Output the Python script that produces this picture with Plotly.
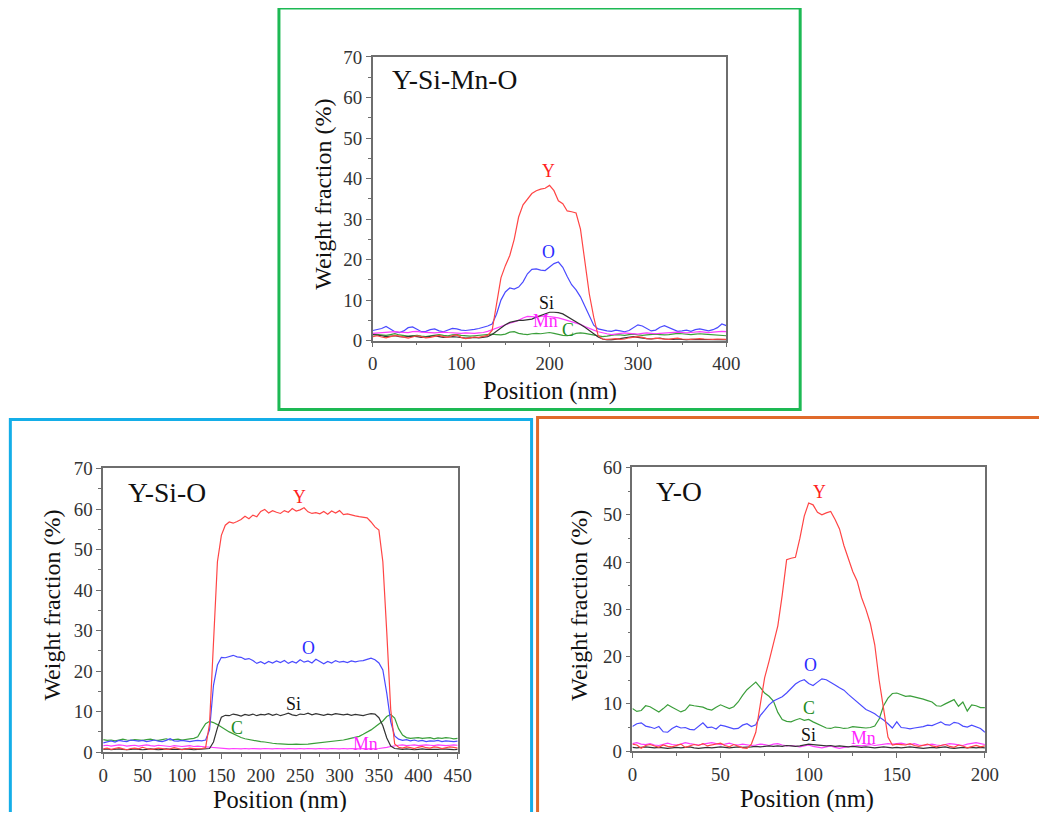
import plotly.graph_objects as go

FW, FH = 1031, 804
# measured mapping of the screenshot: pixel = A + B * paper fraction
AX0, BX = 12.66, 1013.5
AY0, BY = 17.0, 783.9
FS = 1.02  # font compensation for the screenshot scale

# ---------------- Data: Y-Si-Mn-O (top) ----------------
x_top = list(range(0, 405, 5))
top_Y = [1.0,1.2,0.9,0.7,1.0,1.3,1.1,0.8,0.6,0.9,1.2,1.0,0.7,0.8,1.1,1.3,1.0,0.8,1.2,1.4,0.8,0.5,0.7,0.9,0.8,1.0,1.3,
         2.5,9.0,15.5,18.5,21.0,25.0,30.5,33.5,35.0,36.3,37.0,37.4,37.6,38.3,37.0,34.5,33.8,32.0,31.8,31.5,27.5,19.5,11.5,5.8,1.2,0.4,
         0.3,0.4,0.5,0.3,0.4,0.7,0.9,1.0,0.8,0.5,0.4,0.6,0.5,0.4,0.3,0.5,0.6,0.4,0.3,0.3,0.4,0.5,0.4,0.3,0.3,0.4,0.3,0.3]
top_O = [2.5,2.7,3.0,3.5,2.8,2.2,2.0,2.4,3.2,3.4,2.8,2.2,2.3,2.7,2.9,2.4,2.2,2.6,3.0,2.9,2.6,2.5,2.6,2.8,3.0,3.3,3.6,
         4.1,6.5,10.0,12.0,13.0,12.7,13.2,14.5,16.5,17.6,17.7,17.4,17.3,18.2,19.0,19.4,18.1,15.8,13.8,12.5,10.8,8.5,6.0,3.8,2.9,2.6,
         2.4,2.3,2.6,2.4,2.2,2.5,3.2,3.9,3.6,2.9,2.4,2.6,3.3,3.7,3.2,2.6,2.3,2.4,2.6,2.3,2.7,2.9,2.6,2.4,2.7,3.2,4.1,3.7]
top_Mn = [1.8,1.9,2.0,2.0,2.1,2.2,2.1,2.0,2.0,2.2,2.3,2.1,2.0,1.9,1.9,2.0,2.1,2.0,1.9,1.8,1.8,1.9,1.8,1.8,1.9,2.0,2.3,
          2.7,3.2,3.6,4.0,4.3,4.6,5.0,5.6,6.0,5.9,5.8,6.0,6.1,5.9,5.8,5.6,5.3,5.0,4.7,4.4,4.0,3.5,3.0,2.6,2.2,1.9,
          1.7,1.5,1.6,1.8,1.9,1.8,1.7,1.6,1.8,1.9,1.8,1.7,1.8,1.9,2.0,2.0,2.1,2.0,1.9,2.0,2.1,2.2,2.1,2.0,2.1,2.2,2.3,2.2]
top_Si = [1.5,1.4,1.2,1.0,1.1,1.2,1.0,0.9,1.0,1.1,1.0,0.8,0.9,1.1,1.2,1.0,0.8,0.9,1.0,0.9,0.7,0.6,0.7,0.8,0.7,0.8,1.0,
          1.5,2.3,3.2,3.9,4.5,4.8,5.0,5.0,5.1,5.3,5.8,6.2,6.6,7.0,7.0,6.9,6.6,6.0,5.4,4.8,4.0,3.3,2.5,1.6,0.9,0.4,
          0.2,0.2,0.3,0.5,0.7,0.9,1.0,0.8,0.6,0.5,0.4,0.5,0.6,0.4,0.3,0.3,0.4,0.3,0.2,0.3,0.3,0.2,0.2,0.3,0.2,0.2,0.3,0.2]
top_C = [1.6,1.5,1.4,1.3,1.5,1.7,1.4,1.2,1.1,1.2,1.3,1.1,1.0,1.2,1.4,1.5,1.3,1.2,1.4,1.5,1.3,1.2,1.1,1.2,1.3,1.4,1.5,
         1.6,1.5,1.4,1.6,2.1,2.2,1.8,1.6,1.5,1.7,1.8,1.7,1.9,2.0,1.8,1.5,1.3,1.2,1.4,1.8,1.9,1.8,1.6,1.4,1.1,1.0,
         1.1,1.3,1.5,1.4,1.3,1.5,1.6,1.4,1.3,1.4,1.5,1.6,1.5,1.4,1.5,1.7,1.8,1.7,1.6,1.5,1.6,1.7,1.6,1.5,1.4,1.3,1.2,1.2]

# ---------------- Data: Y-Si-O (bottom left) ----------------
x_bl = list(range(0, 455, 5))
bl_Y = [0.8,1.0,0.7,0.9,1.1,0.8,0.6,0.9,1.0,0.8,1.2,0.9,0.7,0.8,1.0,0.9,0.7,0.8,1.1,0.9,0.6,0.8,1.0,0.9,0.8,0.9,
        1.1,7.0,29.0,47.0,53.5,56.0,56.8,56.5,56.9,57.4,58.2,57.6,58.5,58.1,59.4,59.9,59.0,59.6,59.2,58.9,
        59.6,59.2,60.1,59.5,59.8,60.3,59.3,58.9,59.1,58.8,59.4,58.7,59.5,59.0,59.6,58.6,58.8,58.5,58.3,58.1,
        58.0,57.8,56.8,55.6,54.8,47.0,29.5,10.5,2.0,
        1.2,1.0,1.3,1.1,0.9,1.2,1.4,1.1,1.0,1.3,1.2,0.9,1.1,1.3,1.2,1.0]
bl_O = [2.3,2.6,2.8,2.5,2.9,2.7,2.6,3.0,2.8,2.7,2.9,2.6,2.8,3.0,2.7,2.6,2.9,3.3,2.8,2.7,2.9,2.8,2.6,2.8,2.9,2.8,
        3.0,5.5,16.5,21.5,23.4,23.3,23.6,23.9,23.5,23.4,22.9,23.1,22.6,21.9,22.3,21.8,22.4,22.0,22.5,22.1,
        22.6,21.9,22.4,22.0,22.8,22.2,22.5,22.0,22.9,22.3,21.8,22.4,22.0,22.6,22.2,22.4,22.1,22.5,22.3,22.5,
        22.6,22.9,23.2,22.8,22.0,20.3,14.5,7.5,4.0,
        3.2,2.9,3.1,2.8,3.0,2.7,2.9,2.6,2.8,2.7,2.9,2.6,2.8,2.7,2.6,2.7]
bl_Si = [0.7,0.8,0.6,0.7,0.8,0.7,0.6,0.7,0.8,0.7,0.6,0.7,0.8,0.7,0.6,0.7,0.8,0.7,0.7,0.6,0.7,0.8,0.7,0.6,0.7,0.8,
         0.9,0.9,2.5,6.0,8.6,9.1,9.0,9.4,9.2,8.9,9.3,9.1,9.4,9.0,9.3,9.2,9.5,9.1,9.4,9.0,
         9.3,9.6,9.2,9.0,9.4,9.3,9.6,9.2,9.5,9.3,9.1,9.4,9.2,9.5,9.3,9.2,9.4,9.1,9.3,9.2,
         9.0,9.3,9.5,9.4,8.5,6.5,3.5,1.5,0.9,
         0.8,0.7,0.8,0.7,0.6,0.7,0.8,0.7,0.7,0.6,0.7,0.8,0.7,0.7,0.6,0.7]
bl_C = [3.1,2.9,3.0,2.8,3.0,3.2,3.0,2.9,3.1,3.0,2.9,3.1,3.2,3.0,2.9,3.1,3.3,3.0,3.1,3.2,3.0,3.2,3.3,3.4,3.8,5.5,
        7.0,7.6,7.3,6.8,6.3,5.6,5.0,4.5,4.0,3.6,3.3,3.1,2.9,2.7,2.6,2.5,2.3,2.2,2.1,2.0,
        2.0,1.9,1.9,2.0,1.9,1.9,2.0,2.1,2.2,2.3,2.4,2.5,2.7,2.8,2.9,3.0,3.2,3.4,3.6,3.9,
        4.4,4.9,5.5,6.2,7.0,7.7,8.8,9.3,8.4,
        5.8,4.2,3.6,3.4,3.5,3.6,3.4,3.5,3.6,3.3,3.5,3.4,3.6,3.5,3.3,3.4]
bl_Mn = [1.6,1.7,1.5,1.6,1.8,1.7,1.5,1.6,1.7,1.5,1.6,1.8,1.6,1.5,1.7,1.6,1.5,1.4,1.6,1.5,1.4,1.5,1.6,1.4,1.5,1.4,
         1.3,1.2,1.1,1.0,0.9,0.9,0.8,0.9,0.8,0.8,0.9,0.8,0.9,0.8,0.8,0.9,0.8,0.8,0.9,0.8,
         0.8,0.9,0.8,0.8,0.9,0.8,0.9,0.8,0.8,0.9,0.8,0.8,0.9,0.8,0.8,0.9,0.8,0.9,0.8,0.8,
         0.9,0.8,0.9,0.8,0.9,1.0,1.2,1.4,1.6,
         1.7,1.8,1.6,1.7,1.8,1.6,1.7,1.8,1.7,1.6,1.8,1.7,1.6,1.7,1.8,1.7]

# ---------------- Data: Y-O (bottom right) ----------------
x_br = [i * 2.5 for i in range(81)]
br_Y = [1.5,1.3,0.6,1.2,1.4,1.1,0.8,1.3,1.0,0.9,1.2,1.5,0.8,1.1,1.4,1.2,1.6,1.1,1.3,1.5,1.7,1.2,0.9,1.4,1.1,0.7,
        0.6,1.5,4.0,10.0,15.5,19.0,22.5,26.5,33.0,40.5,40.8,41.0,45.0,49.7,52.5,52.1,50.5,50.0,50.4,50.7,
        49.0,47.0,43.5,40.5,38.0,36.0,32.5,30.0,27.0,22.5,15.0,9.0,3.0,1.3,
        1.5,1.4,1.3,1.6,1.2,1.0,1.3,1.5,1.1,0.9,1.2,1.4,1.0,0.8,1.3,1.1,0.7,1.0,1.2,0.9,1.1]
br_O = [5.2,5.8,6.0,5.3,5.1,4.8,5.2,4.1,4.0,4.8,5.3,4.9,5.0,4.6,4.5,5.2,6.0,5.0,5.1,4.7,5.5,5.3,5.0,4.7,4.8,5.5,
        5.8,5.2,5.6,7.5,8.6,9.8,10.6,11.0,11.5,12.3,13.2,14.2,14.8,15.1,14.3,13.9,14.6,15.3,15.1,14.6,
        14.0,13.4,12.9,12.0,11.2,10.3,9.4,8.8,8.4,7.9,7.2,6.6,5.8,4.9,
        6.2,5.0,4.9,4.7,4.9,5.0,5.2,5.5,5.4,5.8,6.2,5.6,5.5,6.1,5.9,5.3,5.1,5.5,5.2,4.8,4.0]
br_C = [9.0,8.4,8.6,9.6,9.4,8.8,8.3,9.0,9.8,9.3,8.8,8.3,8.7,9.8,9.6,9.5,9.3,8.9,8.7,9.3,9.8,9.4,9.0,9.4,10.4,11.8,
        13.0,13.8,14.6,13.5,12.3,11.6,10.6,8.2,6.7,6.3,6.2,6.6,6.9,6.5,6.7,6.2,5.8,5.4,4.9,4.8,
        5.1,5.0,4.8,4.9,5.2,5.1,5.0,4.9,5.0,5.3,6.8,9.6,11.2,12.2,
        12.3,12.0,11.6,11.7,11.5,11.2,11.0,10.7,10.4,9.6,9.5,10.0,10.4,10.9,9.5,10.4,8.5,9.8,9.6,9.2,9.2]
br_Mn = [1.6,1.8,1.5,1.4,1.6,1.3,1.2,1.5,1.7,1.4,1.3,1.5,1.8,1.6,1.4,1.3,1.5,1.7,1.8,1.6,1.4,1.5,1.7,1.4,1.3,1.5,
         1.4,1.2,1.3,1.5,1.4,1.2,1.5,1.6,1.3,1.1,1.2,1.0,0.9,1.1,1.3,1.0,0.8,0.7,0.9,1.1,
         0.8,0.6,0.8,0.9,1.0,1.2,1.1,1.3,1.4,1.2,1.3,1.5,1.6,1.5,
         1.6,1.7,1.5,1.4,1.6,1.3,1.2,1.4,1.5,1.3,1.2,1.4,1.6,1.5,1.3,1.2,1.5,1.7,1.8,1.6,1.4]
br_Si = [0.8,0.7,0.8,0.9,0.8,0.7,0.8,0.7,0.6,0.7,0.8,0.7,0.8,0.9,0.7,0.6,0.7,0.8,0.7,0.8,0.9,0.8,0.7,0.8,0.9,0.8,
         0.8,0.9,1.0,0.9,1.0,1.1,1.0,1.1,1.0,1.2,1.1,1.0,1.1,1.3,1.5,1.4,1.3,1.2,1.1,1.2,
         1.0,1.1,1.0,0.9,1.0,0.9,0.8,0.9,0.8,0.7,0.8,0.9,0.8,0.7,
         0.8,0.7,0.8,0.9,0.8,0.7,0.6,0.7,0.8,0.7,0.8,0.9,0.7,0.6,0.7,0.8,0.7,0.8,0.7,0.8,0.7]

# ---------------- Labels ----------------
panel_titles = ["Y-Si-Mn-O", "Y-Si-O", "Y-O"]
elements = ["Y", "O", "Si", "Mn", "C"]
# positions in the order Y, O, Si, Mn, C
top_label_pos = [(199, 41.9), (199, 21.8), (197, 9.4), (195, 4.9), (221, 2.5)]
bl_label_pos = [(249, 63.0), (260, 25.7), (242, 11.9), (333, 1.9), (170, 6.0)]
br_label_pos = [(106, 54.8), (101, 18.2), (100, 3.5), (131, 2.8), (100, 9.2)]

COL = {"Y": "#ff4545", "O": "#4a4aff", "Si": "#333333", "Mn": "#ff3cff", "C": "#3a9e3a"}
LABCOL = {"Y": "#ff2020", "O": "#2a2aff", "Si": "#111111", "Mn": "#ff22ff", "C": "#228b22"}
FONT = "Liberation Serif"

fig = go.Figure()

def add_series(xs, series, axis):
    for el in ["C", "O", "Mn", "Si", "Y"]:
        fig.add_trace(go.Scatter(x=xs, y=series[el], mode="lines",
                                 line=dict(color=COL[el], width=1.2),
                                 xaxis="x" + axis, yaxis="y" + axis,
                                 showlegend=False, hoverinfo="skip"))

add_series(x_top, {"Y": top_Y, "O": top_O, "Si": top_Si, "Mn": top_Mn, "C": top_C}, "")
add_series(x_bl, {"Y": bl_Y, "O": bl_O, "Si": bl_Si, "Mn": bl_Mn, "C": bl_C}, "2")
add_series(x_br, {"Y": br_Y, "O": br_O, "Si": br_Si, "Mn": br_Mn, "C": br_C}, "3")

def px(xp):
    return (xp - AX0) / BX

def py(yp):
    return 1 - (yp - AY0) / BY

AXC = "#6e6e6e"
TICKFONT = dict(family=FONT, size=18.5 * FS, color="#333333")

def xax(x0, x1, rng, dtick, minor, anchor):
    return dict(domain=[px(x0), px(x1)], range=rng, dtick=dtick, tick0=0,
                showline=True, mirror=True, linecolor=AXC, linewidth=1.6,
                ticks="outside", ticklen=5, tickcolor=AXC, tickwidth=1.2,
                minor=dict(dtick=minor, ticks="outside", ticklen=3, tickcolor=AXC, tickwidth=1),
                showgrid=False, zeroline=False, anchor=anchor, tickfont=TICKFONT)

def yax(y0, y1, rng, anchor):
    return dict(domain=[py(y1), py(y0)], range=rng, dtick=10, tick0=0,
                showline=True, mirror=True, linecolor=AXC, linewidth=1.6,
                ticks="outside", ticklen=5, tickcolor=AXC, tickwidth=1.2,
                minor=dict(dtick=5, ticks="outside", ticklen=3, tickcolor=AXC, tickwidth=1),
                showgrid=False, zeroline=False, anchor=anchor, tickfont=TICKFONT)

fig.update_layout(
    width=FW, height=FH,
    margin=dict(l=0, r=0, t=0, b=0),
    paper_bgcolor="white", plot_bgcolor="white",
    xaxis=xax(373, 727, [0, 400], 100, 50, "y"),
    yaxis=yax(56, 340, [0, 70], "x"),
    xaxis2=xax(103, 458, [0, 450], 50, 25, "y2"),
    yaxis2=yax(468, 752, [0, 70], "x2"),
    xaxis3=xax(633, 986, [0, 200], 50, 25, "y3"),
    yaxis3=yax(467, 751, [0, 60], "x3"),
)

ann = []
for lab_pos, ax in [(top_label_pos, ""), (bl_label_pos, "2"), (br_label_pos, "3")]:
    for (lx, ly), el in zip(lab_pos, elements):
        ann.append(dict(x=lx, y=ly, xref="x" + ax, yref="y" + ax, text=el, showarrow=False,
                        xanchor="center", yanchor="middle",
                        font=dict(family=FONT, size=17.5 * FS, color=LABCOL[el])))

# panel titles
for t, ax, fx, fy in [(panel_titles[0], "", 0.048, 0.919),
                      (panel_titles[1], "2", 0.065, 0.915),
                      (panel_titles[2], "3", 0.062, 0.915)]:
    ann.append(dict(x=fx, y=fy, xref="x" + ax + " domain", yref="y" + ax + " domain",
                    text=t, showarrow=False, xanchor="left", yanchor="middle",
                    font=dict(family=FONT, size=27 * FS, color="#111111")))

# axis titles
for cx, cy in [(550, 390), (280, 800), (808, 799)]:
    ann.append(dict(x=px(cx), y=py(cy), xref="paper", yref="paper", text="Position (nm)",
                    xanchor="center", yanchor="middle",
                    showarrow=False, font=dict(family=FONT, size=24 * FS, color="#111111")))
for cx, cy in [(323, 193), (52, 605), (580, 605)]:
    ann.append(dict(x=px(cx), y=py(cy), xref="paper", yref="paper", text="Weight fraction (%)",
                    xanchor="center", yanchor="middle",
                    textangle=-90, showarrow=False, font=dict(family=FONT, size=23.5 * FS, color="#111111")))
fig.update_layout(annotations=ann)

# coloured frames
shapes = [
    dict(type="rect", xref="paper", yref="paper", x0=px(279), x1=px(801), y0=py(409), y1=py(7),
         line=dict(color="#1db954", width=3)),
    dict(type="rect", xref="paper", yref="paper", x0=px(10), x1=px(532), y0=py(850), y1=py(419),
         line=dict(color="#14aee8", width=3)),
    dict(type="rect", xref="paper", yref="paper", x0=px(538), x1=px(1080), y0=py(819), y1=py(417),
         line=dict(color="#e06a2a", width=3)),
]
fig.update_layout(shapes=shapes)

fig.write_html("out.html")
